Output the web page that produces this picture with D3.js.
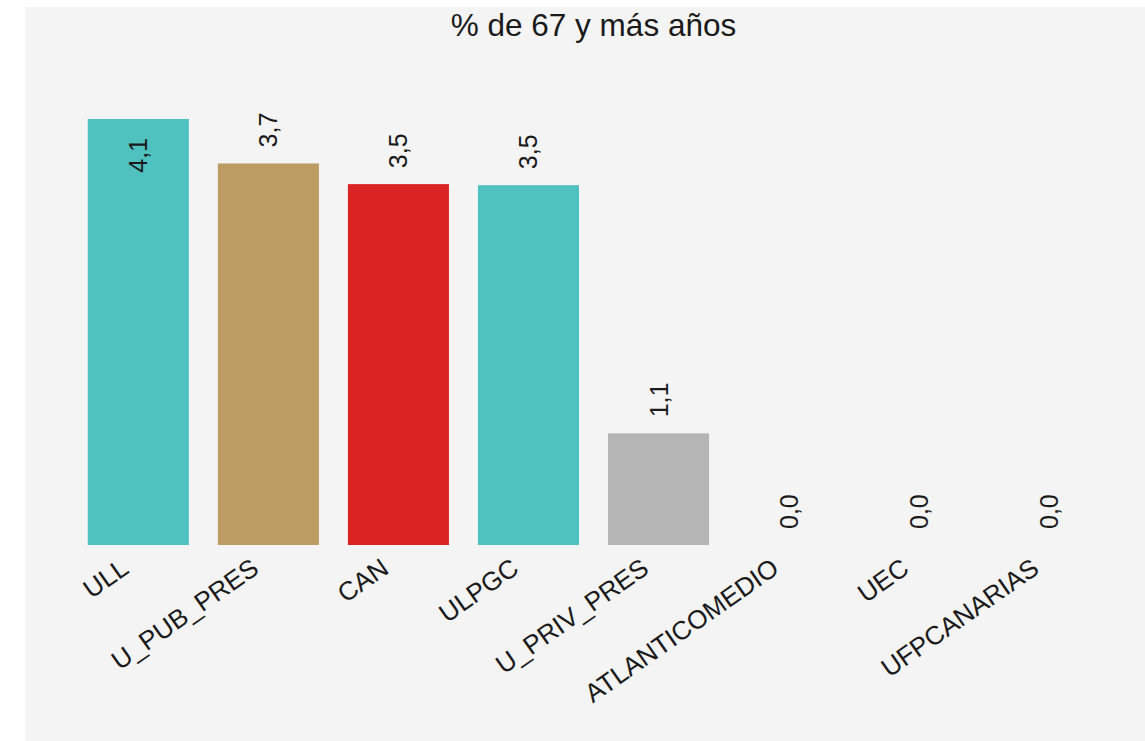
<!DOCTYPE html>
<html>
<head>
<meta charset="utf-8">
<script src="https://cdn.jsdelivr.net/npm/d3@7"></script>
<style>
  html, body { margin: 0; padding: 0; background: #ffffff; }
  svg { display: block; }
  text { font-family: "Liberation Sans", Arial, sans-serif; fill: #1a1a1a; }
</style>
</head>
<body>
<svg id="chart" width="1145" height="741"></svg>
<script>
const title = "% de 67 y más años";
const categories = ["ULL", "U_PUB_PRES", "CAN", "ULPGC", "U_PRIV_PRES", "ATLANTICOMEDIO", "UEC", "UFPCANARIAS"];
const values = [4.12, 3.69, 3.49, 3.48, 1.08, 0, 0, 0];
const colors = ["#4fc2bf", "#bd9c64", "#dc2323", "#4fc2bf", "#b5b5b5", "#b5b5b5", "#b5b5b5", "#b5b5b5"];

const svg = d3.select("#chart");
const W = 1145, H = 741;
const plot = { left: 73.5, right: 1113.5, top: 79.7, bottom: 545 };

svg.append("rect").attr("x", 25).attr("y", 7).attr("width", W - 25).attr("height", H - 7).attr("fill", "#f4f4f4");

const x = d3.scaleBand().domain(categories).range([plot.left, plot.right]).paddingInner(0.223).paddingOuter(0.11);
const y = d3.scaleLinear().domain([0, 4.5]).range([plot.bottom, plot.top]);

const fmt = v => d3.format(".1f")(v).replace(".", ",");

svg.append("text")
  .attr("x", (plot.left + plot.right) / 2)
  .attr("y", 36)
  .attr("text-anchor", "middle")
  .attr("font-size", 31.5)
  .text(title);

const data = categories.map((c, i) => ({ c, v: values[i], col: colors[i] }));

svg.append("g").selectAll("rect").data(data).join("rect")
  .attr("x", d => x(d.c))
  .attr("y", d => y(d.v))
  .attr("width", x.bandwidth())
  .attr("height", d => y(0) - y(d.v))
  .attr("fill", d => d.col);

// value labels
const labelSize = 25;
const gl = svg.append("g");
data.forEach(d => {
  const cx = x(d.c) + x.bandwidth() / 2;
  const top = y(d.v);
  const t = gl.append("text")
    .attr("font-size", labelSize)
    .text(fmt(d.v));
  const len = t.node().getComputedTextLength();
  const inside = (top - 16 - len) < 90;
  if (inside) {
    t.attr("text-anchor", "end")
     .attr("transform", `translate(${cx + 9},${top + 19}) rotate(-90)`);
  } else {
    t.attr("text-anchor", "start")
     .attr("transform", `translate(${cx + 9},${top - 16}) rotate(-90)`);
  }
});

// axis
const axis = d3.axisBottom(x).tickSize(0).tickPadding(0);
const gx = svg.append("g").attr("transform", `translate(0,${plot.bottom})`).call(axis);
gx.select(".domain").remove();
gx.selectAll("text")
  .attr("font-size", 26)
  .attr("font-family", "\"Liberation Sans\", Arial, sans-serif")
  .attr("fill", "#1a1a1a")
  .attr("text-anchor", "end")
  .attr("dy", 0)
  .attr("y", 0)
  .attr("transform", "translate(-8,27) rotate(-35)");
</script>
</body>
</html>
